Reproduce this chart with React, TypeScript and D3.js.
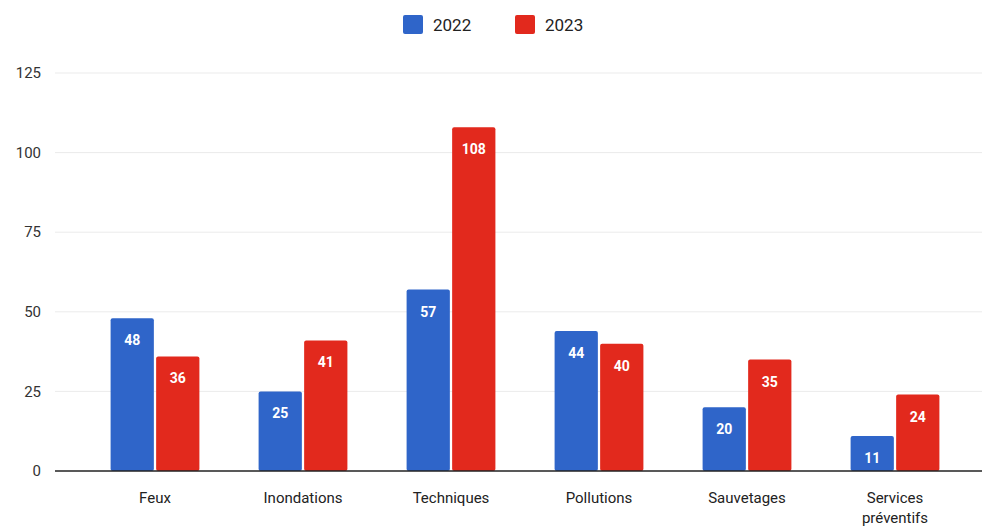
import React, { useRef, useEffect } from "react";
import * as d3 from "d3";

const CATEGORIES = ["Feux", "Inondations", "Techniques", "Pollutions", "Sauvetages", "Services préventifs"];
const SERIES_NAMES = ["2022", "2023"];
const VALUES_2022 = [48, 25, 57, 44, 20, 11];
const VALUES_2023 = [36, 41, 108, 40, 35, 24];
const Y_TICKS = [0, 25, 50, 75, 100, 125];

const COLORS = ["#2f65c9", "#e2291d"];
const WIDTH = 982;
const HEIGHT = 530;

export default function App() {
  const svgRef = useRef<SVGSVGElement | null>(null);

  useEffect(() => {
    if (!svgRef.current) return;
    const svg = d3.select(svgRef.current);
    svg.selectAll("*").remove();

    const font = "Roboto, 'Noto Sans', sans-serif";
    const x = d3.scaleBand<string>().domain(CATEGORIES).range([81, 969]).paddingInner(0.4).paddingOuter(0.2);
    const xs = d3.scaleBand<string>().domain(SERIES_NAMES).range([0, x.bandwidth()]).paddingInner(0.05);
    const y = d3.scaleLinear().domain([0, 125]).range([471, 73]);

    // grid
    svg
      .append("g")
      .selectAll("line")
      .data(Y_TICKS.filter((t) => t > 0))
      .join("line")
      .attr("x1", 55)
      .attr("x2", WIDTH)
      .attr("y1", (d) => y(d))
      .attr("y2", (d) => y(d))
      .attr("stroke", "#ebebeb")
      .attr("stroke-width", 1);

    // y labels
    svg
      .append("g")
      .selectAll("text")
      .data(Y_TICKS)
      .join("text")
      .attr("x", 41)
      .attr("y", (d) => y(d))
      .attr("dy", "0.35em")
      .attr("text-anchor", "end")
      .attr("font-family", font)
      .attr("font-size", 15)
      .attr("fill", "#333")
      .text((d) => d);

    const series = [VALUES_2022, VALUES_2023];
    series.forEach((vals, si) => {
      const g = svg.append("g");
      g.selectAll("rect")
        .data(vals)
        .join("rect")
        .attr("x", (_, i) => (x(CATEGORIES[i]) ?? 0) + (xs(SERIES_NAMES[si]) ?? 0))
        .attr("y", (d) => y(d))
        .attr("width", xs.bandwidth())
        .attr("height", (d) => y(0) - y(d))
        .attr("rx", 2)
        .attr("fill", COLORS[si]);
      g.selectAll("text")
        .data(vals)
        .join("text")
        .attr("x", (_, i) => (x(CATEGORIES[i]) ?? 0) + (xs(SERIES_NAMES[si]) ?? 0) + xs.bandwidth() / 2)
        .attr("y", (d) => y(d) + 27)
        .attr("text-anchor", "middle")
        .attr("font-family", font)
        .attr("font-size", 14)
        .attr("font-weight", "bold")
        .attr("fill", "#fff")
        .text((d) => d);
    });

    // baseline
    svg
      .append("line")
      .attr("x1", 55)
      .attr("x2", WIDTH)
      .attr("y1", y(0))
      .attr("y2", y(0))
      .attr("stroke", "#222")
      .attr("stroke-width", 1.5);

    // category labels (wrap words)
    const cat = svg
      .append("g")
      .selectAll("text")
      .data(CATEGORIES)
      .join("text")
      .attr("x", (d) => (x(d) ?? 0) + x.bandwidth() / 2)
      .attr("y", 503)
      .attr("text-anchor", "middle")
      .attr("font-family", font)
      .attr("font-size", 15)
      .attr("fill", "#222");
    cat.each(function (d) {
      const words = d.split(" ");
      const t = d3.select(this);
      words.forEach((w, i) => {
        t.append("tspan")
          .attr("x", (x(d) ?? 0) + x.bandwidth() / 2)
          .attr("dy", i === 0 ? 0 : 20)
          .text(w);
      });
    });

    // legend
    const legend = svg.append("g");
    const legendX = [403, 515];
    SERIES_NAMES.forEach((name, i) => {
      legend
        .append("rect")
        .attr("x", legendX[i])
        .attr("y", 15)
        .attr("width", 20)
        .attr("height", 19)
        .attr("rx", 2)
        .attr("fill", COLORS[i]);
      legend
        .append("text")
        .attr("x", legendX[i] + 30)
        .attr("y", 25)
        .attr("dy", "0.35em")
        .attr("font-family", font)
        .attr("font-size", 17)
        .attr("fill", "#222")
        .text(name);
    });
  }, []);

  return <svg ref={svgRef} width={WIDTH} height={HEIGHT} style={{ position: "absolute", left: 0, top: 0 }} />;
}
